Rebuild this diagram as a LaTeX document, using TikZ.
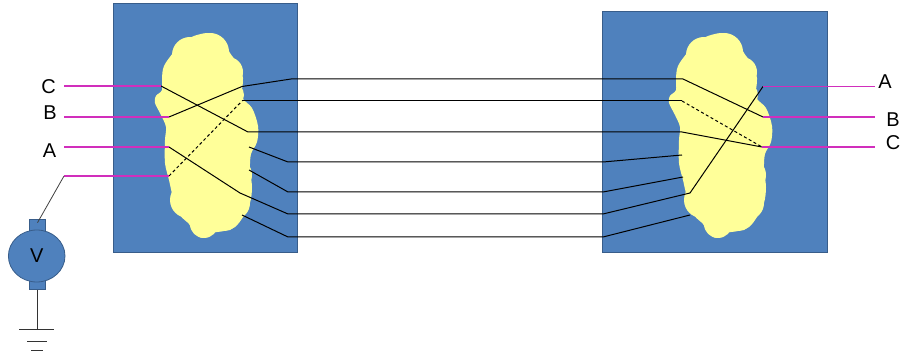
\documentclass[tikz,border=0pt]{standalone}
\usepackage{fontspec}
\setmainfont{Liberation Sans}
\usetikzlibrary{shapes.geometric}
\definecolor{panelblue}{HTML}{4F81BD}
\definecolor{paneledge}{HTML}{385D8A}
\definecolor{pale}{HTML}{FFFF99}
\definecolor{wirepink}{HTML}{D12EBC}

% bumpy yellow core: a smooth body with rounded lobes along its rim
\newcommand\drawpuff{%
  \fill[pale] plot[smooth cycle,tension=0.55] coordinates {
    (207,33) (217,35) (225,43) (230,53) (237,63) (243,78) (242,97)
    (252,108) (258,126) (257,142) (251,154) (250,170) (252,187)
    (250,203) (243,217) (235,227) (224,231) (212,233) (203,238)
    (194,233) (189,224) (180,215) (173,197) (169,180) (165,163)
    (165,140) (166,127) (161,115) (155,103) (156,96) (162,90)
    (162,78) (164,66) (173,53) (183,42) (194,36)};
  \foreach \cx/\cy/\r in {190/55/18, 210/52/19, 228/72/15, 232/95/12,
      240/130/18, 235/175/17, 233/203/17, 225/218/13, 204/224/14,
      188/200/18, 183/160/18, 182/120/17, 178/85/16, 162/100/7}
    \fill[pale] (\cx,\cy) circle[radius=\r pt];
}

\begin{document}
\begin{tikzpicture}[x=1pt,y=-1pt,
  wire/.style={draw=black,line width=1pt},
  dashwire/.style={wire,dash pattern=on 3pt off 2.5pt},
  pinkwire/.style={draw=wirepink,line width=1.1pt},
  lbl/.style={font=\fontsize{20}{24}\selectfont,inner sep=0pt},
  panel/.style={draw=paneledge,fill=panelblue,line width=0.8pt,inner sep=0pt},
  term/.style={draw=paneledge,fill=panelblue,line width=0.6pt,minimum width=16.5pt,inner sep=0pt}]
\useasboundingbox (0,0) rectangle (902,355);

% the two blocks
\node[panel,minimum width=184pt,minimum height=249pt] (lp) at (205,127.5) {};
\node[panel,minimum width=225pt,minimum height=241pt] (rp) at (714.5,131.5) {};

% yellow cores
\drawpuff
\begin{scope}[shift={(514,0)}]
  \drawpuff
\end{scope}

% left side bend points
\coordinate (lB0) at (64,117);   \coordinate (lB1) at (169,117);
\coordinate (lB2) at (242,86.5); \coordinate (lB3) at (291,79);
\coordinate (lV0) at (64,176);   \coordinate (lV1) at (169,176);
\coordinate (lV2) at (242,101);
\coordinate (lC0) at (64,86);    \coordinate (lC1) at (161,86);
\coordinate (lC2) at (248,132);
\coordinate (lA0) at (64,147);   \coordinate (lA1) at (169,147);
\coordinate (lA2) at (240,193);  \coordinate (lA3) at (288,214);
\coordinate (l4a) at (249,147);  \coordinate (l4b) at (288,162);
\coordinate (l5a) at (249,170);  \coordinate (l5b) at (288,192);
\coordinate (l7a) at (242,215);  \coordinate (l7b) at (288,237);

% right side bend points
\coordinate (rB3) at (683,79);   \coordinate (rB2) at (763,117);
\coordinate (rB0) at (875,117);
\coordinate (rV2) at (682,101);  \coordinate (rC1) at (762,147);
\coordinate (rC0) at (875,147);
\coordinate (rK2) at (682,132);
\coordinate (rA3) at (603,214);  \coordinate (rA2) at (690,193);
\coordinate (rA1) at (763,86.5); \coordinate (rA0) at (875,86.5);
\coordinate (r4b) at (603,162);  \coordinate (r4a) at (682,155);
\coordinate (r5b) at (603,192);  \coordinate (r5a) at (683,177);
\coordinate (r7b) at (603,237);  \coordinate (r7a) at (690,215);

% conductors
\draw[wire] (lB1) -- (lB2) -- (lB3) -- (rB3) -- (rB2);
\draw[dashwire] (lV1) -- (lV2);
\draw[wire] (lV2) -- (rV2);
\draw[dashwire] (rV2) -- (rC1);
\draw[wire] (lC1) -- (lC2) -- (rK2) -- (rC1);
\draw[wire] (lA1) -- (lA2) -- (lA3) -- (rA3) -- (rA2) -- (rA1);
\draw[wire] (l4a) -- (l4b) -- (r4b) -- (r4a);
\draw[wire] (l5a) -- (l5b) -- (r5b) -- (r5a);
\draw[wire] (l7a) -- (l7b) -- (r7b) -- (r7a);

% phase leads
\draw[pinkwire] (lC0) -- (lC1);
\draw[pinkwire] (lB0) -- (lB1);
\draw[pinkwire] (lA0) -- (lA1);
\draw[pinkwire] (lV0) -- (lV1);
\draw[pinkwire] (rA1) -- (rA0);
\draw[pinkwire] (rB2) -- (rB0);
\draw[pinkwire] (rC1) -- (rC0);

% phase labels
\node[lbl] (tC) at (48.5,87) {C};
\node[lbl] (tB) at (50,113) {B};
\node[lbl] (tA) at (49.5,150.5) {A};
\node[lbl] (uA) at (885,82) {A};
\node[lbl] (uB) at (893,120) {B};
\node[lbl] (uC) at (893,142.5) {C};

% voltmeter
\node[term,minimum height=12pt] (vt) at (37.5,225) {};
\node[term,minimum height=10pt] (vb) at (37.5,284.5) {};
\node[ellipse,draw=paneledge,fill=panelblue,line width=0.8pt,
      minimum width=56.6pt,minimum height=52pt,inner sep=0pt,
      font=\fontsize{20}{24}\selectfont] (vm) at (36.7,256) {V};
\draw[draw=black!75,line width=0.8pt] (lV0) -- ([yshift=-4pt]vt.north);

% ground
\coordinate (g0) at (37.5,329);
\coordinate (g1a) at (19,329);  \coordinate (g1b) at (54,329);
\coordinate (g2a) at (27,341);  \coordinate (g2b) at (47,341);
\coordinate (g3a) at (31,350);  \coordinate (g3b) at (43,350);
\draw[draw=black!80,line width=0.9pt] (vb.south) -- (g0);
\draw[draw=black!80,line width=0.9pt] (g1a) -- (g1b);
\draw[draw=black!80,line width=0.9pt] (g2a) -- (g2b);
\draw[draw=black!80,line width=0.9pt] (g3a) -- (g3b);
\end{tikzpicture}
\end{document}
